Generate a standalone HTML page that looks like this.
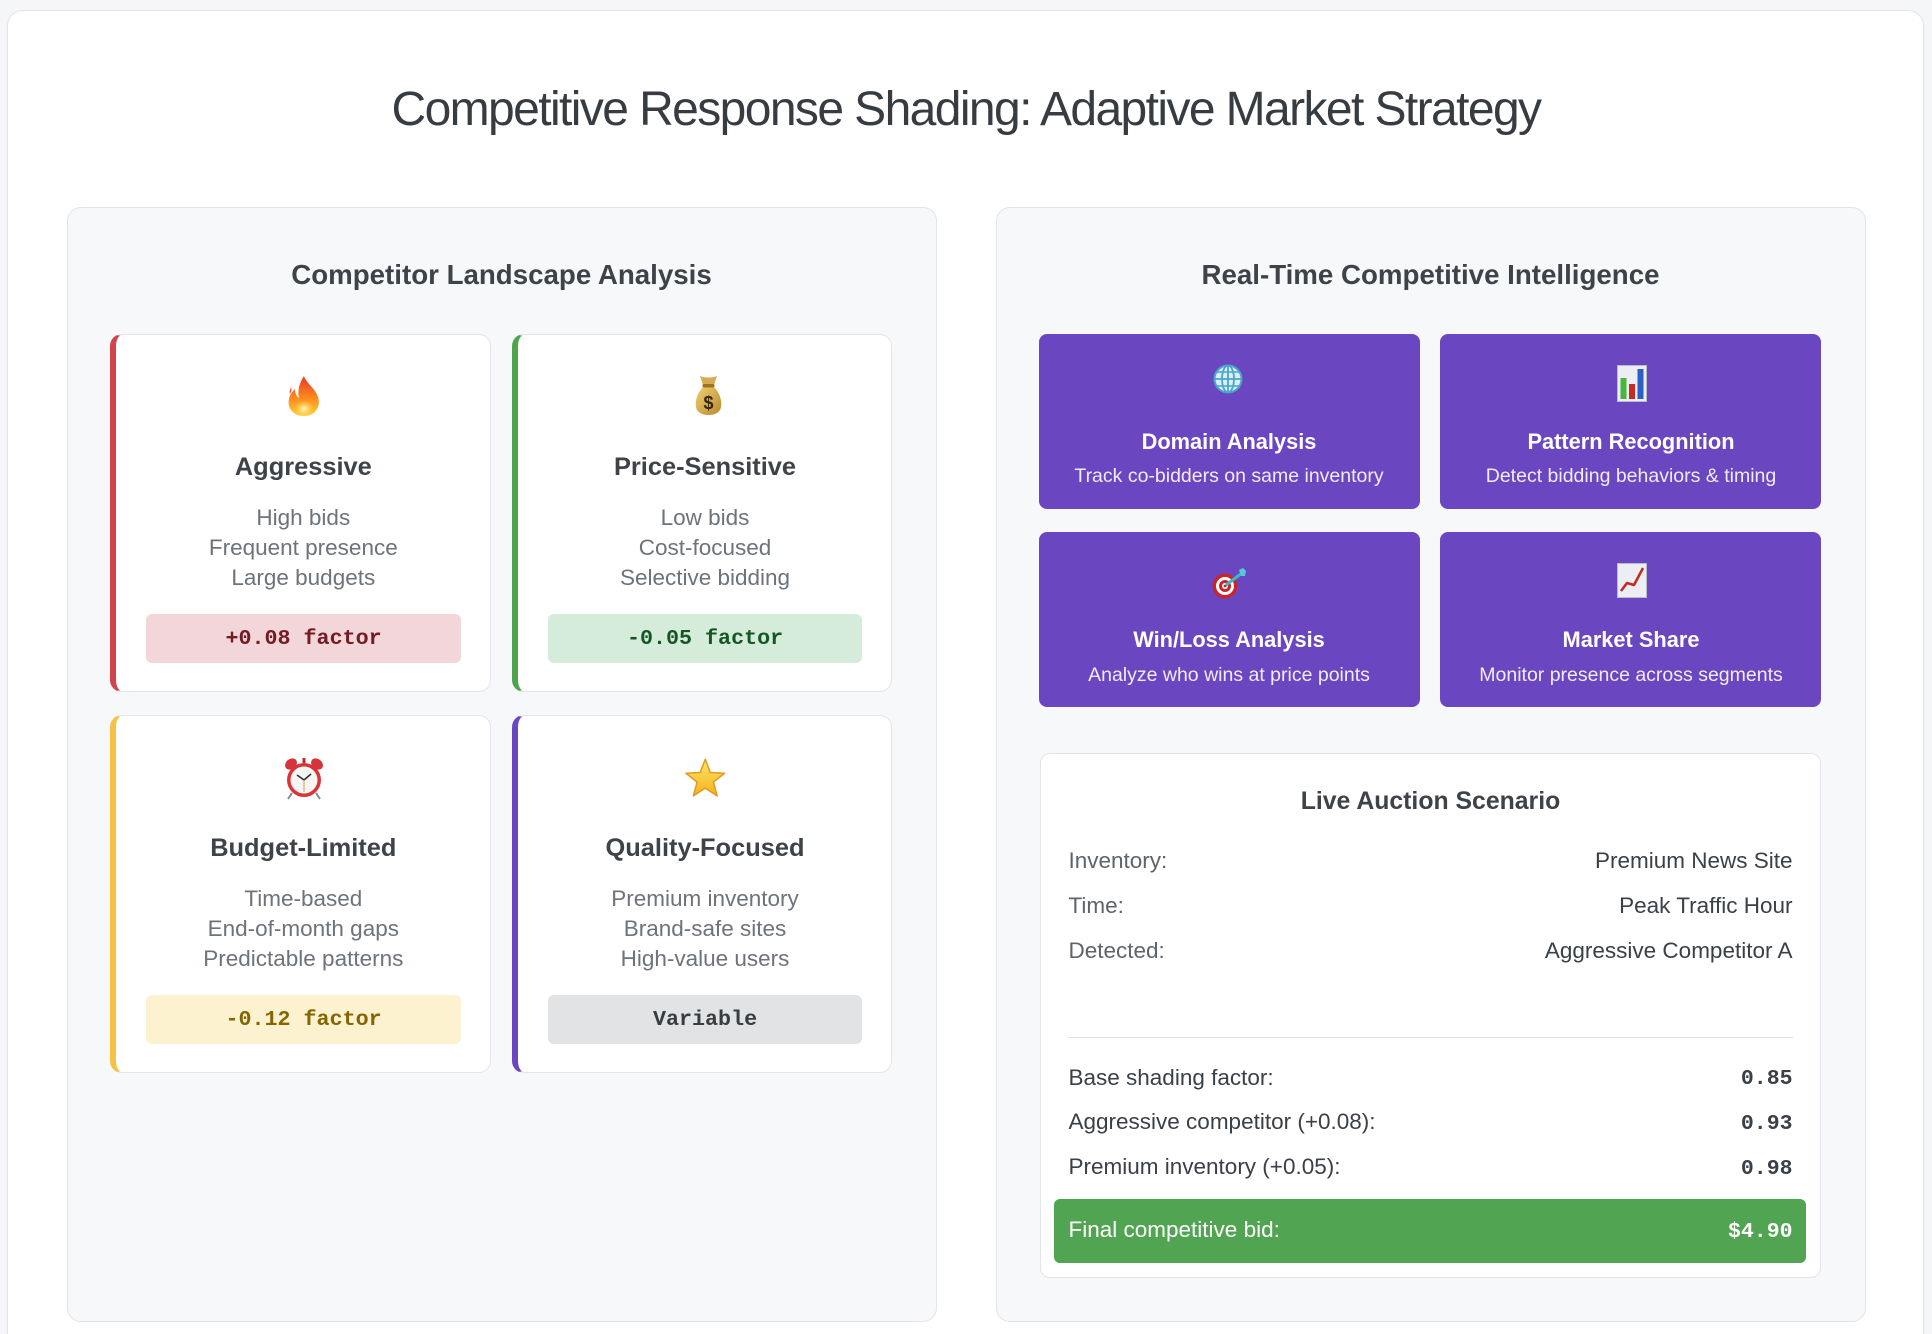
<!DOCTYPE html>
<html>
<head>
<meta charset="utf-8">
<style>
  html,body{margin:0;padding:0;overflow:hidden;}
  body{width:1932px;height:1334px;background:#f5f6f8;position:relative;overflow:hidden;font-family:"Liberation Sans",Arial,sans-serif;}
  .abs{position:absolute;}
  .t{position:absolute;white-space:nowrap;}
  .c{text-align:center;width:600px;}
  .outer{left:7px;top:10px;width:1917px;height:1324px;background:#fff;border:1px solid #e3e5e9;border-bottom:none;border-radius:16px 16px 0 0;box-sizing:border-box;box-shadow:0 1px 3px rgba(0,0,0,0.04);}
  .panel{top:207px;width:870px;height:1115px;background:#f7f8fa;border:1px solid #e1e4e8;border-radius:14px;box-sizing:border-box;}
  .card{width:380.5px;height:358px;background:#fff;border:1px solid #e3e5e8;border-radius:12px;box-sizing:border-box;}
  .ph{font-size:27.7px;line-height:27.7px;font-weight:bold;color:#3d4349;}
  .ct{font-size:25.4px;line-height:25.4px;font-weight:bold;color:#3d4349;}
  .cd{font-size:22.5px;line-height:30px;color:#6c737a;}
  .badge{height:49px;width:314.5px;border-radius:6px;font-family:"Liberation Mono",monospace;font-weight:bold;font-size:21.7px;line-height:49px;text-align:center;}
  .tile{width:381px;height:175px;background:#6b46c1;border-radius:8px;}
  .tt{font-size:21.8px;line-height:21.8px;font-weight:bold;color:#fff;}
  .ts{font-size:19.5px;line-height:19.5px;color:#f1ecfb;}
  .lab{font-size:22.5px;line-height:22.5px;color:#5d646b;}
  .val{font-size:22.5px;line-height:22.5px;color:#3a4047;}
  .mono{font-family:"Liberation Mono",monospace;font-weight:bold;font-size:21.5px;line-height:21.5px;color:#3a4047;}
</style>
</head>
<body>
<div class="abs outer"></div>

<div class="t" style="left:0;width:1932px;text-align:center;top:86.4px;font-size:48px;line-height:48px;letter-spacing:-1.6px;color:#363c42;">Competitive Response Shading: Adaptive Market Strategy</div>

<!-- Panels -->
<div class="abs panel" style="left:66.5px;"></div>
<div class="abs panel" style="left:995.5px;"></div>

<div class="t c ph" style="left:201.5px;top:260.5px;">Competitor Landscape Analysis</div>
<div class="t c ph" style="left:1130.5px;top:260.5px;">Real-Time Competitive Intelligence</div>

<!-- Competitor cards -->
<div class="abs card" style="left:110px;top:334px;border-left:6px solid #d3434c;"></div>
<div class="abs card" style="left:511.5px;top:334px;border-left:6px solid #4fa44e;"></div>
<div class="abs card" style="left:110px;top:714.5px;border-left:6px solid #f6c244;"></div>
<div class="abs card" style="left:511.5px;top:714.5px;border-left:6px solid #6b46c1;"></div>

<!-- Fire -->
<svg class="abs" style="left:285px;top:375px;" width="37" height="42" viewBox="0 0 37 42">
  <defs>
    <linearGradient id="fg" x1="0" y1="1" x2="0" y2="0">
      <stop offset="0" stop-color="#ffcf3a"/><stop offset="0.45" stop-color="#ff8a1c"/><stop offset="1" stop-color="#e8362a"/>
    </linearGradient>
    <radialGradient id="fy" cx="0.5" cy="0.6" r="0.5">
      <stop offset="0" stop-color="#fff8c8"/><stop offset="1" stop-color="#ffd23a" stop-opacity="0"/>
    </radialGradient>
  </defs>
  <path d="M19 1 C21 8 30 13 33 22 C36 31 31 41 19 41 C8 41 2 33 4 24 C5 19 8 16 10 14 C10 19 12 22 14 23 C12 15 15 7 19 1Z" fill="url(#fg)"/>
  <path d="M6 12 C5 15 4 17 5 19 C6 17 7 15 6 12Z" fill="#ee5a2a"/>
  <ellipse cx="19" cy="32" rx="10" ry="9" fill="url(#fy)"/>
</svg>

<!-- Money bag -->
<svg class="abs" style="left:695px;top:375px;" width="27" height="40" viewBox="0 0 27 40">
  <defs>
    <linearGradient id="mb" x1="0" y1="0" x2="1" y2="1">
      <stop offset="0" stop-color="#f0cf72"/><stop offset="1" stop-color="#b98a2c"/>
    </linearGradient>
  </defs>
  <path d="M5 1 C9 3 18 3 22 1 L19 10 L8 10 Z" fill="#d7ab52"/>
  <path d="M8 12 C2 18 0 26 1 32 C2 38 8 40 13.5 40 C19 40 25 38 26 32 C27 26 25 18 19 12 Z" fill="url(#mb)"/>
  <rect x="7.5" y="9" width="12" height="3.5" rx="1.5" fill="#9c7224"/>
  <text x="13.5" y="34" text-anchor="middle" font-family="Liberation Sans, sans-serif" font-weight="bold" font-size="18" fill="#35260e">$</text>
</svg>

<!-- Clock -->
<svg class="abs" style="left:282.5px;top:756.5px;" width="42" height="43" viewBox="0 0 42 43">
  <ellipse cx="8" cy="7" rx="6.5" ry="5" transform="rotate(-40 8 7)" fill="#d6333a"/>
  <ellipse cx="34" cy="7" rx="6.5" ry="5" transform="rotate(40 34 7)" fill="#d6333a"/>
  <rect x="19.5" y="1" width="3" height="5" fill="#b8282e"/>
  <line x1="9" y1="36" x2="5" y2="42" stroke="#8a8a8a" stroke-width="2"/>
  <line x1="33" y1="36" x2="37" y2="42" stroke="#8a8a8a" stroke-width="2"/>
  <circle cx="21" cy="23" r="17" fill="#d8343a"/>
  <circle cx="21" cy="23" r="13.5" fill="#f8f6f2"/>
  <line x1="21" y1="23" x2="14" y2="18" stroke="#333" stroke-width="1.6"/>
  <line x1="21" y1="23" x2="28" y2="17" stroke="#333" stroke-width="1.6"/>
  <line x1="21" y1="23" x2="21" y2="35" stroke="#c9a45a" stroke-width="1"/>
</svg>

<!-- Star -->
<svg class="abs" style="left:684px;top:758px;" width="42.5" height="41" viewBox="0 0 42 40">
  <defs>
    <linearGradient id="st" x1="0" y1="0" x2="0" y2="1">
      <stop offset="0" stop-color="#ffe66a"/><stop offset="1" stop-color="#f5b21c"/>
    </linearGradient>
  </defs>
  <polygon points="21,1 26,14.12 40.02,14.82 29.08,23.63 32.76,37.18 21,29.5 9.24,37.18 12.92,23.63 1.98,14.82 16,14.12" fill="url(#st)" stroke="#e39a1e" stroke-width="1.5" stroke-linejoin="round"/>
</svg>

<!-- Card texts -->
<div class="t c ct" style="left:3.3px;top:455px;">Aggressive</div>
<div class="t c ct" style="left:405px;top:455px;">Price-Sensitive</div>
<div class="t c ct" style="left:3.3px;top:835.5px;">Budget-Limited</div>
<div class="t c ct" style="left:405px;top:835.5px;">Quality-Focused</div>

<div class="t c cd" style="left:3.3px;top:503.2px;">High bids<br>Frequent presence<br>Large budgets</div>
<div class="t c cd" style="left:405px;top:503.2px;">Low bids<br>Cost-focused<br>Selective bidding</div>
<div class="t c cd" style="left:3.3px;top:883.7px;">Time-based<br>End-of-month gaps<br>Predictable patterns</div>
<div class="t c cd" style="left:405px;top:883.7px;">Premium inventory<br>Brand-safe sites<br>High-value users</div>

<div class="abs badge" style="left:146.3px;top:614px;background:#f3d6d9;color:#721c24;">+0.08 factor</div>
<div class="abs badge" style="left:547.8px;top:614px;background:#d6ecda;color:#155724;">-0.05 factor</div>
<div class="abs badge" style="left:146.3px;top:994.5px;background:#fdf2cf;color:#856404;">-0.12 factor</div>
<div class="abs badge" style="left:547.8px;top:994.5px;background:#e2e3e5;color:#383d41;">Variable</div>

<!-- Purple tiles -->
<div class="abs tile" style="left:1038.6px;top:334px;"></div>
<div class="abs tile" style="left:1440.4px;top:334px;"></div>
<div class="abs tile" style="left:1038.6px;top:532px;"></div>
<div class="abs tile" style="left:1440.4px;top:532px;"></div>

<!-- Globe -->
<svg class="abs" style="left:1213px;top:364px;" width="30" height="30" viewBox="0 0 30 30">
  <circle cx="15" cy="15" r="13.5" fill="#d8eef9" stroke="#4aa4c9" stroke-width="2"/>
  <ellipse cx="15" cy="15" rx="6" ry="13.5" fill="none" stroke="#4aa4c9" stroke-width="1.8"/>
  <line x1="15" y1="1.5" x2="15" y2="28.5" stroke="#4aa4c9" stroke-width="1.8"/>
  <line x1="1.5" y1="15" x2="28.5" y2="15" stroke="#4aa4c9" stroke-width="1.8"/>
  <line x1="4" y1="8" x2="26" y2="8" stroke="#4aa4c9" stroke-width="1.6"/>
  <line x1="4" y1="22" x2="26" y2="22" stroke="#4aa4c9" stroke-width="1.6"/>
</svg>

<!-- Bar chart -->
<svg class="abs" style="left:1617px;top:365px;" width="30" height="37" viewBox="0 0 30 37">
  <rect x="0.5" y="0.5" width="29" height="36" fill="#eceef3" stroke="#b7bccb"/>
  <rect x="3.5" y="13" width="6" height="21" fill="#49b83a"/>
  <rect x="12" y="19" width="6" height="15" fill="#c62c22"/>
  <rect x="20.5" y="4" width="6" height="30" fill="#2d5fc4"/>
</svg>

<!-- Target -->
<svg class="abs" style="left:1212px;top:568px;" width="35" height="31" viewBox="0 0 35 31">
  <circle cx="13" cy="18" r="12.5" fill="#c8252b"/>
  <circle cx="13" cy="18" r="9" fill="#fff"/>
  <circle cx="13" cy="18" r="6" fill="#c8252b"/>
  <circle cx="13" cy="18" r="3" fill="#fff"/>
  <circle cx="13" cy="18" r="1.4" fill="#c8252b"/>
  <line x1="14" y1="17" x2="30" y2="5" stroke="#3fb6c6" stroke-width="3"/>
  <polygon points="27,2 31,0 34,3 33,8 29,8" fill="#58c8d6"/>
</svg>

<!-- Chart up -->
<svg class="abs" style="left:1617px;top:563px;" width="30" height="35" viewBox="0 0 30 35">
  <rect x="0.5" y="0.5" width="29" height="34" fill="#eceef3" stroke="#b7bccb"/>
  <polyline points="4,28 10,20 17,22 26,5" fill="none" stroke="#c8281e" stroke-width="2.5" stroke-linejoin="round"/>
</svg>

<div class="t c tt" style="left:929px;top:431px;">Domain Analysis</div>
<div class="t c tt" style="left:1331px;top:431px;">Pattern Recognition</div>
<div class="t c tt" style="left:929px;top:629px;">Win/Loss Analysis</div>
<div class="t c tt" style="left:1331px;top:629px;">Market Share</div>

<div class="t c ts" style="left:929px;top:467px;">Track co-bidders on same inventory</div>
<div class="t c ts" style="left:1331px;top:467px;">Detect bidding behaviors &amp; timing</div>
<div class="t c ts" style="left:929px;top:665.5px;">Analyze who wins at price points</div>
<div class="t c ts" style="left:1331px;top:665.5px;">Monitor presence across segments</div>

<!-- Live Auction Scenario -->
<div class="abs" style="left:1040px;top:752.5px;width:781px;height:525px;background:#fff;border:1px solid #e1e4e8;border-radius:10px;box-sizing:border-box;"></div>
<div class="t c" style="left:1130.5px;top:790.4px;font-size:24.8px;line-height:24.8px;font-weight:bold;color:#3d4349;">Live Auction Scenario</div>

<div class="t lab" style="left:1068.5px;top:849.5px;">Inventory:</div>
<div class="t val" style="right:139.5px;top:849.5px;">Premium News Site</div>
<div class="t lab" style="left:1068.5px;top:895px;">Time:</div>
<div class="t val" style="right:139.5px;top:895px;">Peak Traffic Hour</div>
<div class="t lab" style="left:1068.5px;top:939.5px;">Detected:</div>
<div class="t val" style="right:139.5px;top:939.5px;">Aggressive Competitor A</div>

<div class="abs" style="left:1068px;top:1036.5px;width:725px;height:1px;background:#dee2e6;"></div>

<div class="t val" style="left:1068.5px;top:1066.6px;">Base shading factor:</div>
<div class="t mono" style="right:139.5px;top:1069.2px;">0.85</div>
<div class="t val" style="left:1068.5px;top:1111px;">Aggressive competitor (+0.08):</div>
<div class="t mono" style="right:139.5px;top:1113.5px;">0.93</div>
<div class="t val" style="left:1068.5px;top:1156px;">Premium inventory (+0.05):</div>
<div class="t mono" style="right:139.5px;top:1158.5px;">0.98</div>

<div class="abs" style="left:1054px;top:1199px;width:751.5px;height:63.5px;background:#51a451;border-radius:6px;"></div>
<div class="t" style="left:1068.5px;top:1219px;font-size:22.5px;line-height:22.5px;color:#fff;">Final competitive bid:</div>
<div class="t mono" style="right:139.5px;top:1221.5px;color:#fff;">$4.90</div>

</body>
</html>
